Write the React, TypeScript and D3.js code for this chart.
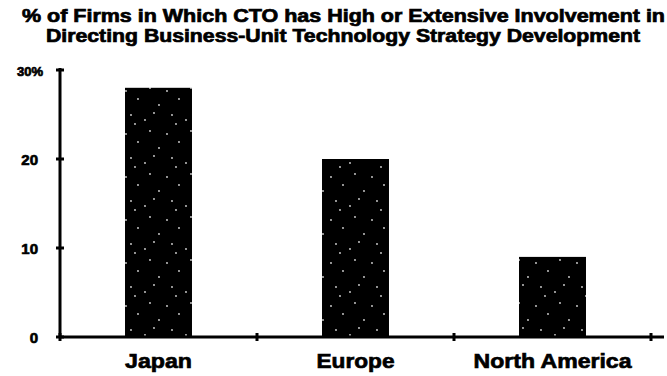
import React from "react";
import * as d3 from "d3";

const categories = ["Japan", "Europe", "North America"];
const values = [28, 20, 9];
const yTicks = [0, 10, 20, 30];
const yTickLabels = ["0", "10", "20", "30%"];
const titleLines = [
  "% of Firms in Which CTO has High or Extensive Involvement in",
  "Directing Business-Unit Technology Strategy Development",
];

export default function App() {
  const W = 667, H = 376;
  const x0 = 60, x1 = 651;
  const y = d3.scaleLinear().domain([0, 30]).range([337, 70]);
  const x = d3.scaleBand<string>().domain(categories).range([x0, x1]).paddingInner(0.66).paddingOuter(0.33);
  const step = x.step();
  const font = "'Liberation Sans', Arial, sans-serif";
  const labelWidths: Record<string, number> = { Japan: 67, Europe: 78, "North America": 158 };
  const dots: [number, number][] = [[3, 5], [27, 2], [15, 13], [36, 19], [8, 29], [22, 34], [31, 27], [12, 38]];
  return (
    <svg width={W} height={H} style={{ position: "absolute", left: 0, top: 0, background: "#fff" }}>
      <defs>
        <pattern id="speck" width="41" height="43" patternUnits="userSpaceOnUse">
          <rect width="41" height="43" fill="#000" />
          {dots.map((d, i) => (
            <circle key={i} cx={d[0]} cy={d[1]} r={0.9} fill="#fff" opacity={0.85} />
          ))}
        </pattern>
      </defs>
      {titleLines.map((t, i) => (
        <text key={i} x={i === 0 ? 22 : 46} y={22 + i * 20} textLength={i === 0 ? 643 : 594}
          lengthAdjust="spacingAndGlyphs" fontFamily={font} fontWeight="bold" fontSize={18}
          fill="#000" stroke="#000" strokeWidth={0.7}>
          {t}
        </text>
      ))}
      {categories.map((c, i) => (
        <rect key={c} x={x(c)!} y={y(values[i])} width={x.bandwidth()} height={y(0) - y(values[i])} fill="url(#speck)" />
      ))}
      <line x1={x0} x2={x0} y1={y(30) - 2} y2={y(0)} stroke="#000" strokeWidth={3} />
      <line x1={x0} x2={664} y1={y(0)} y2={y(0)} stroke="#000" strokeWidth={3} />
      {yTicks.map((t, i) => (
        <g key={t}>
          <line x1={x0 - 4} x2={x0 + 4} y1={y(t)} y2={y(t)} stroke="#000" strokeWidth={3} />
          <text x={t === 30 ? 43 : 38} y={y(t) + 5.5} textAnchor="end" fontFamily={font} fontWeight="bold"
            fontSize={t === 30 ? 13 : 15} fill="#000" stroke="#000" strokeWidth={0.7}>
            {yTickLabels[i]}
          </text>
        </g>
      ))}
      {categories.map((c, i) => (
        <line key={"t" + i} x1={x0 + step * i} x2={x0 + step * i} y1={y(0) - 4} y2={y(0) + 4} stroke="#000" strokeWidth={3} />
      ))}
      <line x1={x0 + step * 3} x2={x0 + step * 3} y1={y(0) - 4} y2={y(0) + 4} stroke="#000" strokeWidth={3} />
      {categories.map((c) => (
        <text key={"l" + c} x={x(c)! + x.bandwidth() / 2 - labelWidths[c] / 2} y={368}
          textLength={labelWidths[c]} lengthAdjust="spacingAndGlyphs"
          fontFamily={font} fontWeight="bold" fontSize={21}
          fill="#000" stroke="#000" strokeWidth={0.7}>
          {c}
        </text>
      ))}
    </svg>
  );
}
